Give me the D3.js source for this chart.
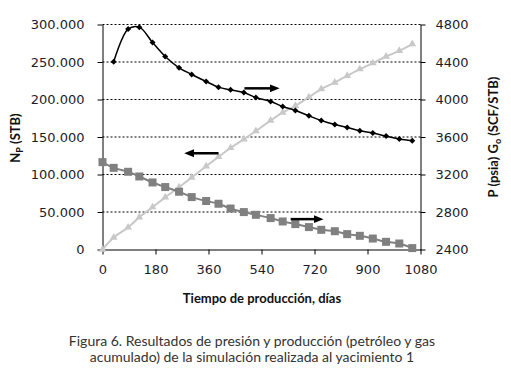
<!DOCTYPE html>
<html>
<head>
<meta charset="utf-8">
<script src="https://cdn.jsdelivr.net/npm/d3@7"></script>
<style>
    body { margin: 0; background: #fff; }
    svg { display: block; }
    .tick-label { font-family: 'DejaVu Sans', sans-serif; font-size: 13px; fill: #1c1c2c; }
    .axis-title { font-family: Lato, sans-serif; font-weight: bold; font-size: 13px; fill: #111; }
    .caption { font-family: Lato, sans-serif; font-size: 14px; fill: #333; }
</style>
</head>
<body>
<div id="chart"></div>
<script>
// days of production (shared by all three series)
const days = [0, 38, 87, 125, 170, 213, 260, 303, 352, 394, 435, 480, 521, 571, 612, 655, 701, 743, 789, 831, 874, 918, 963, 1008, 1052]
// Np (STB) - left axis, grey triangles
const npValues = [0, 16000, 29500, 43000, 56500, 69500, 83000, 96000, 111000, 123500, 135500, 147000, 158000,
    172000, 182700, 191600, 203200, 213900, 222700, 231600, 240500, 248500, 257300, 264900, 273900]
// Go (SCF/STB) - right axis, black diamonds (no value at day 0)
const goValues = [null, 4402, 4751, 4772, 4608, 4459, 4338, 4267, 4192, 4132, 4103, 4075, 4021,
    3979, 3925, 3883, 3826, 3776, 3733, 3701, 3666, 3642, 3610, 3579, 3560]
// P (psia) - right axis, grey squares
const pValues = [3332, 3271, 3229, 3179, 3115, 3066, 3016, 2959, 2917, 2888, 2837, 2799, 2770,
    2735, 2699, 2671, 2639, 2610, 2595, 2564, 2546, 2517, 2482, 2464, 2415]

const xTicks = [0, 180, 360, 540, 720, 900, 1080]
const leftTicks = [0, 50000, 100000, 150000, 200000, 250000, 300000]
const rightTicks = [2400, 2800, 3200, 3600, 4000, 4400, 4800]

// arrows: [day from, day to, value, axis]
const arrows = [
    [482, 605, 4119, 'right'],
    [394, 274, 128300, 'left'],
    [639, 754, 2724, 'right']
]

const WIDTH = 511, HEIGHT = 375
const M = { left: 102.5, right: 420.5, top: 24.5, bottom: 249.5 }

const svg = d3.select('#chart').append('svg')
    .attr('width', WIDTH)
    .attr('height', HEIGHT)

const x = d3.scaleLinear().domain([0, 1080]).range([M.left, M.right])
const yLeft = d3.scaleLinear().domain([0, 300000]).range([M.bottom, M.top])
const yRight = d3.scaleLinear().domain([2400, 4800]).range([M.bottom, M.top])

const fmtLeft = d => d === 0 ? '0' : d3.format(',')(d).replace(/,/g, '.')

// gridlines
svg.append('g')
    .selectAll('line')
    .data(leftTicks.filter(d => d > 0))
    .join('line')
    .attr('x1', M.left).attr('x2', M.right)
    .attr('y1', d => yLeft(d)).attr('y2', d => yLeft(d))
    .attr('stroke', '#000')
    .attr('stroke-width', 1)
    .attr('stroke-dasharray', '2,2')

// axes
const xAxis = svg.append('g')
    .attr('transform', `translate(0, ${M.bottom})`)
    .call(d3.axisBottom(x).tickValues(xTicks).tickFormat(d3.format('d')).tickSize(5).tickSizeOuter(0).tickPadding(8))
const leftAxis = svg.append('g')
    .attr('transform', `translate(${M.left}, 0)`)
    .call(d3.axisLeft(yLeft).tickValues(leftTicks).tickFormat(fmtLeft).tickSize(5).tickSizeOuter(0).tickPadding(13))
const rightAxis = svg.append('g')
    .attr('transform', `translate(${M.right}, 0)`)
    .call(d3.axisRight(yRight).tickValues(rightTicks).tickFormat(d3.format('d')).tickSize(5).tickSizeOuter(0).tickPadding(10))

svg.selectAll('.domain').attr('stroke', '#000')
svg.selectAll('.tick line').attr('stroke', '#000')
svg.selectAll('.tick text').attr('class', 'tick-label').attr('font-size', null).attr('font-family', null)
xAxis.selectAll('.tick text').attr('dy', '0.9em')

// series
const idx = d3.range(days.length)
const curve = d3.curveCatmullRom.alpha(0.5)

svg.append('path')
    .datum(idx)
    .attr('fill', 'none')
    .attr('stroke', '#c8c8c8')
    .attr('stroke-width', 2)
    .attr('d', d3.line().curve(curve).x(i => x(days[i])).y(i => yLeft(npValues[i])))

svg.append('path')
    .datum(idx)
    .attr('fill', 'none')
    .attr('stroke', '#808080')
    .attr('stroke-width', 2)
    .attr('d', d3.line().curve(curve).x(i => x(days[i])).y(i => yRight(pValues[i])))

svg.append('path')
    .datum(idx.filter(i => goValues[i] !== null))
    .attr('fill', 'none')
    .attr('stroke', '#000')
    .attr('stroke-width', 1.5)
    .attr('d', d3.line().curve(curve).x(i => x(days[i])).y(i => yRight(goValues[i])))

svg.append('g')
    .selectAll('path')
    .data(idx)
    .join('path')
    .attr('transform', i => `translate(${x(days[i])}, ${yLeft(npValues[i])})`)
    .attr('d', d3.symbol(d3.symbolTriangle, 26))
    .attr('fill', '#c8c8c8')

svg.append('g')
    .selectAll('rect')
    .data(idx)
    .join('rect')
    .attr('x', i => x(days[i]) - 4)
    .attr('y', i => yRight(pValues[i]) - 4)
    .attr('width', 8)
    .attr('height', 8)
    .attr('fill', '#808080')

svg.append('g')
    .selectAll('path')
    .data(idx.filter(i => goValues[i] !== null))
    .join('path')
    .attr('transform', i => `translate(${x(days[i])}, ${yRight(goValues[i])}) rotate(45)`)
    .attr('d', d3.symbol(d3.symbolSquare, 18))
    .attr('fill', '#000')

// arrows
svg.append('defs').append('marker')
    .attr('id', 'head')
    .attr('viewBox', '0 0 10 8')
    .attr('refX', 1).attr('refY', 4)
    .attr('markerWidth', 10).attr('markerHeight', 8)
    .attr('markerUnits', 'userSpaceOnUse')
    .attr('orient', 'auto')
    .append('path')
    .attr('d', 'M0,0 L10,4 L0,8 Z')
    .attr('fill', '#000')

arrows.forEach(a => {
    const y = a[3] === 'left' ? yLeft(a[2]) : yRight(a[2])
    const dir = Math.sign(a[1] - a[0])
    svg.append('line')
        .attr('x1', x(a[0])).attr('x2', x(a[1]) - dir * 10)
        .attr('y1', y).attr('y2', y)
        .attr('stroke', '#000')
        .attr('stroke-width', 2.5)
        .attr('marker-end', 'url(#head)')
})

// titles
svg.append('text')
    .attr('class', 'axis-title')
    .attr('x', 262).attr('y', 303)
    .attr('text-anchor', 'middle')
    .text('Tiempo de producción, días')

const leftTitle = svg.append('text')
    .attr('class', 'axis-title')
    .attr('text-anchor', 'middle')
    .attr('transform', 'translate(20, 138) rotate(-90)')
leftTitle.append('tspan').text('N')
leftTitle.append('tspan').attr('font-size', '9px').attr('dy', 3).text('P')
leftTitle.append('tspan').attr('dy', -3).text(' (STB)')

const rightTitle = svg.append('text')
    .attr('class', 'axis-title')
    .attr('text-anchor', 'middle')
    .attr('transform', 'translate(498, 137) rotate(-90)')
rightTitle.append('tspan').text('P (psia) G')
rightTitle.append('tspan').attr('font-size', '9px').attr('dy', 3).text('o')
rightTitle.append('tspan').attr('dy', -3).text(' (SCF/STB)')

// caption
svg.append('text')
    .attr('class', 'caption')
    .attr('x', 252).attr('y', 346)
    .attr('text-anchor', 'middle')
    .text('Figura 6. Resultados de presión y producción (petróleo y gas')
svg.append('text')
    .attr('class', 'caption')
    .attr('x', 252).attr('y', 362)
    .attr('text-anchor', 'middle')
    .text('acumulado) de la simulación realizada al yacimiento 1')
</script>
</body>
</html>
